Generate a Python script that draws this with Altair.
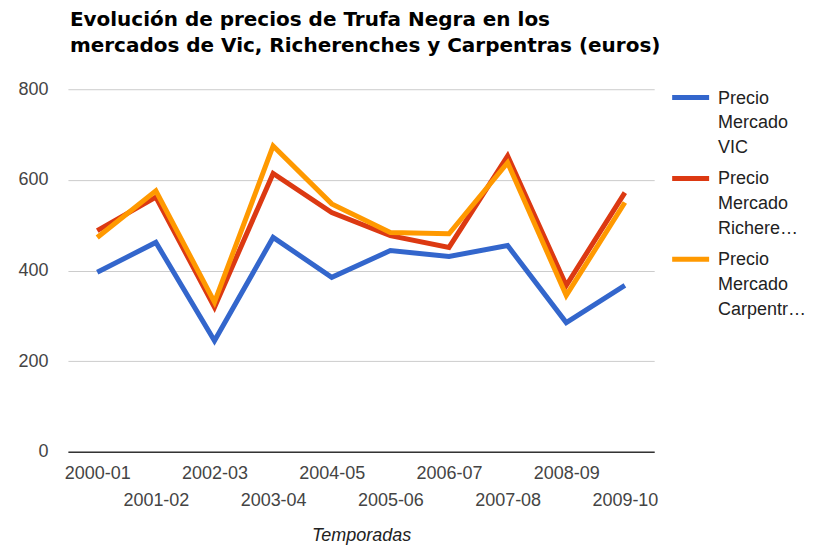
import altair as alt
import pandas as pd

seasons = ["2000-01", "2001-02", "2002-03", "2003-04", "2004-05",
           "2005-06", "2006-07", "2007-08", "2008-09", "2009-10"]
series_names = ["Precio Mercado VIC", "Precio Mercado Richerenches", "Precio Mercado Carpentras"]
legend_lines = [["Precio", "Mercado", "VIC"],
                ["Precio", "Mercado", "Richere…"],
                ["Precio", "Mercado", "Carpentr…"]]
colors = ["#3366cc", "#dc3912", "#ff9900"]

vic = [396, 462, 245, 473, 385, 444, 431, 455, 285, 367]
richerenches = [488, 562, 319, 614, 528, 477, 451, 653, 367, 572]
carpentras = [473, 576, 330, 675, 547, 484, 481, 638, 345, 550]

title_lines = ["Evolución de precios de Trufa Negra en los",
               "mercados de Vic, Richerenches y Carpentras (euros)"]
y_ticks = [0, 200, 400, 600, 800]

rows = []
for name, vals in zip(series_names, [vic, richerenches, carpentras]):
    for s, v in zip(seasons, vals):
        rows.append({"Temporada": s, "Serie": name, "Precio": v})
df = pd.DataFrame(rows)

legend_df = pd.DataFrame({"Serie": series_names,
                          "Etiqueta": ["\n".join(l) for l in legend_lines]})

color_scale = alt.Scale(domain=series_names, range=colors)
x_label_expr = "toNumber(substring(datum.label, 0, 4)) % 2 == 1 ? ['', datum.label] : datum.label"

main = alt.Chart(df).mark_line(strokeWidth=5).encode(
    x=alt.X("Temporada:N", sort=seasons,
            scale=alt.Scale(type="point", padding=0.5),
            axis=alt.Axis(title="Temporadas", labelAngle=0, ticks=False, tickSize=0,
                          grid=False, domainColor="#333333", domainWidth=1.5,
                          labelFont="Liberation Sans", labelFontSize=18, labelColor="#444444",
                          labelPadding=13, labelLineHeight=27, labelBaseline="top",
                          labelExpr=x_label_expr, labelOverlap=False, labelFlush=False,
                          titleFont="Liberation Sans", titleFontStyle="italic",
                          titleFontWeight="normal", titleFontSize=18, titleColor="#222222",
                          titlePadding=17)),
    y=alt.Y("Precio:Q", scale=alt.Scale(domain=[0, 800]),
            axis=alt.Axis(title=None, values=y_ticks, domain=False, ticks=False, tickSize=0,
                          gridColor="#cccccc", gridWidth=1,
                          labelFont="Liberation Sans", labelFontSize=18, labelColor="#444444",
                          labelPadding=20, format="d")),
    color=alt.Color("Serie:N", scale=color_scale, legend=None),
).properties(width=587, height=363)

leg_base = alt.Chart(legend_df).encode(
    y=alt.Y("Serie:N", sort=series_names,
            scale=alt.Scale(type="point", padding=0.1025), axis=None)
)
leg_sym = leg_base.mark_rule(strokeWidth=5).encode(
    x=alt.value(0), x2=alt.value(37),
    color=alt.Color("Serie:N", scale=color_scale, legend=None),
)
leg_txt = leg_base.mark_text(align="left", baseline="top", dy=-8,
                             font="Liberation Sans", fontSize=18, lineHeight=25,
                             lineBreak="\n", color="#222222").encode(
    x=alt.value(46), text="Etiqueta:N"
)
legend = (leg_sym + leg_txt).properties(width=130, height=178.6)

chart = alt.hconcat(main, legend, spacing=18, bounds="flush").properties(
    padding={"left": 9, "top": 2, "right": 0, "bottom": 0},
    title=alt.TitleParams(text=title_lines, anchor="start", font="DejaVu Sans",
                          fontSize=20, fontWeight="bold", lineHeight=26, color="#000000",
                          baseline="top", offset=24, dx=52)
).configure(font="Liberation Sans").configure_view(stroke=None)

chart.save("out.html", embed_options={"renderer": "svg", "actions": False})
